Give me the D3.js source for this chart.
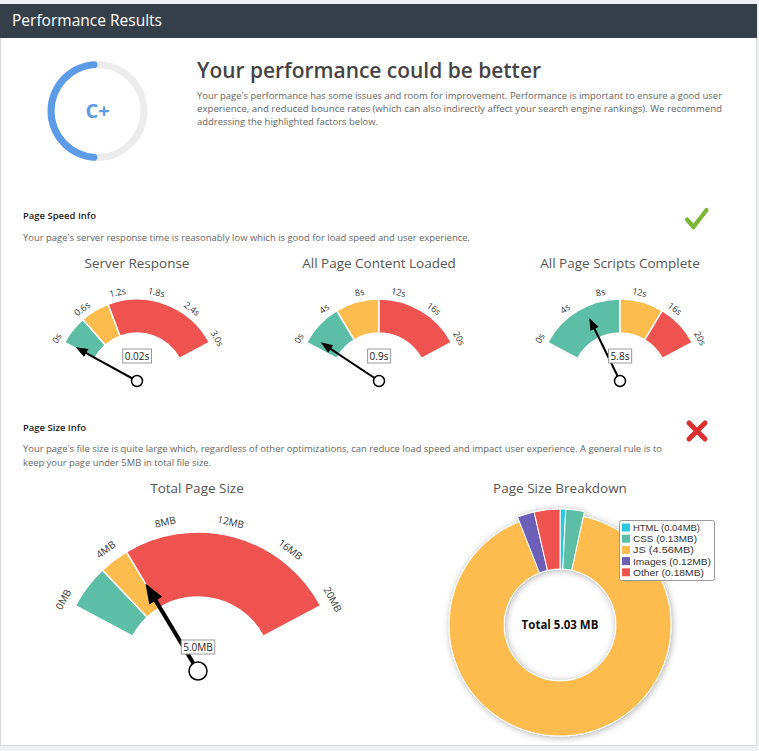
<!DOCTYPE html>
<html><head><meta charset="utf-8">
<script src="https://cdn.jsdelivr.net/npm/d3@7"></script>
<style>
html,body{margin:0;padding:0;background:#eef1f4;}
svg{display:block;}
text{font-family:"Open Sans",sans-serif;}
</style></head><body>
<svg id="c" width="759" height="751"></svg>
<script>
// ---------------- data ----------------
const headerTitle = "Performance Results";
const grade = "C+";
const gradeScore = 0.5;
const headline = "Your performance could be better";
const introLines = [
  "Your page's performance has some issues and room for improvement. Performance is important to ensure a good user",
  "experience, and reduced bounce rates (which can also indirectly affect your search engine rankings). We recommend",
  "addressing the highlighted factors below."
];
const speedHeading = "Page Speed Info";
const speedLines = ["Your page's server response time is reasonably low which is good for load speed and user experience."];
const sizeHeading = "Page Size Info";
const sizeLines = [
  "Your page's file size is quite large which, regardless of other optimizations, can reduce load speed and impact user experience. A general rule is to",
  "keep your page under 5MB in total file size."
];

const speedTitles = ["Server Response", "All Page Content Loaded", "All Page Scripts Complete"];
const speedMax = [3, 20, 20];
const speedTicks = [[0, 0.6, 1.2, 1.8, 2.4, 3.0], [0, 4, 8, 12, 16, 20], [0, 4, 8, 12, 16, 20]];
const speedTickLabels = [
  ["0s", "0.6s", "1.2s", "1.8s", "2.4s", "3.0s"],
  ["0s", "4s", "8s", "12s", "16s", "20s"],
  ["0s", "4s", "8s", "12s", "16s", "20s"]
];
const speedGoodUpTo = [0.5, 5, 10];
const speedFairUpTo = [1.0, 10, 15];
const speedValues = [0.02, 0.9, 5.8];
const speedValueLabels = ["0.02s", "0.9s", "5.8s"];

const sizeTitle = "Total Page Size";
const sizeMax = 20;
const sizeTicks = [0, 4, 8, 12, 16, 20];
const sizeTickLabels = ["0MB", "4MB", "8MB", "12MB", "16MB", "20MB"];
const sizeGoodUpTo = 3;
const sizeFairUpTo = 5;
const sizeValue = 5.0;
const sizeValueLabel = "5.0MB";

const breakdownTitle = "Page Size Breakdown";
const breakdownCategories = ["HTML", "CSS", "JS", "Images", "Other"];
const breakdownValues = [0.04, 0.13, 4.56, 0.12, 0.18];
const breakdownTotalLabel = "Total 5.03 MB";

// ---------------- style ----------------
const TEAL = "#5dbea6", YELLOW = "#fdbc4e", RED = "#ef5350";
const sliceColors = ["#2ec7e0", "#5dbea6", "#fdbc4e", "#6c5fb8", "#ef5350"];

const svg = d3.select("#c");
const defs = svg.append("defs");
const f = defs.append("filter").attr("id", "sh").attr("x", "-20%").attr("y", "-20%").attr("width", "140%").attr("height", "140%");
f.append("feDropShadow").attr("dx", 1).attr("dy", 1).attr("stdDeviation", 3.5).attr("flood-color", "#000").attr("flood-opacity", 0.32);

// panel
svg.append("rect").attr("x", 0.5).attr("y", 4.5).attr("width", 756).attr("height", 741)
  .attr("fill", "#fff").attr("stroke", "#d6d9dc");
svg.append("rect").attr("x", 0).attr("y", 4).attr("width", 757).attr("height", 34).attr("fill", "#353f4a");

function txt(x, y, s, o) {
  o = o || {};
  const t = svg.append("text").attr("x", x).attr("y", y).text(s)
    .attr("font-size", o.size || 10).attr("fill", o.fill || "#333")
    .attr("font-weight", o.weight || 400)
    .attr("text-anchor", o.anchor || "start");
  if (o.len) t.attr("textLength", o.len).attr("lengthAdjust", "spacingAndGlyphs");
  return t;
}

txt(12, 26, headerTitle, {size: 16, fill: "#fff", len: 150});

// grade ring
const gx = 97.5, gy = 111;
const ring = d3.arc().innerRadius(43).outerRadius(50).startAngle(0).endAngle(2 * Math.PI);
svg.append("path").attr("transform", `translate(${gx},${gy})`).attr("d", ring()).attr("fill", "#ececec");
const gArc = d3.arc().innerRadius(43).outerRadius(50).cornerRadius(3.5)
  .startAngle(2 * Math.PI * (1 - gradeScore)).endAngle(2 * Math.PI);
svg.append("path").attr("transform", `translate(${gx},${gy})`).attr("d", gArc()).attr("fill", "#5b9be8");
txt(gx, gy + 7, grade, {size: 20, weight: 700, fill: "#5b9be8", anchor: "middle"});

txt(197, 78, headline, {size: 22, weight: 600, fill: "#444", len: 344});
const introLens = [525, 525, 181];
introLines.forEach((l, i) => txt(197, 99 + i * 13.2, l, {size: 8.6, fill: "#666", len: introLens[i]}));

txt(23, 219, speedHeading, {size: 9, weight: 600, fill: "#222", len: 73});
txt(23, 241, speedLines[0], {size: 8.6, fill: "#666", len: 447});
txt(23, 431, sizeHeading, {size: 9, weight: 600, fill: "#222", len: 63});
const sizeLens = [639, 188];
sizeLines.forEach((l, i) => txt(23, 452 + i * 14, l, {size: 8.6, fill: "#666", len: sizeLens[i]}));

// check mark & cross
svg.append("path").attr("d", "M687,219.5 L693.5,227 L706.5,210")
  .attr("fill", "none").attr("stroke", "#7cb733").attr("stroke-width", 4.2).attr("stroke-linecap", "round").attr("stroke-linejoin", "round");
svg.append("path").attr("d", "M689,423 L705,439 M705,423 L689,439")
  .attr("fill", "none").attr("stroke", "#dc2f2f").attr("stroke-width", 5).attr("stroke-linecap", "round");

// ---------------- gauges ----------------
const A = 62 * Math.PI / 180;
function drawGauge(o) {
  const g = svg.append("g").attr("transform", `translate(${o.cx},${o.cy})`);
  const ang = d3.scaleLinear().domain([0, o.max]).range([-A, A]);
  const bands = [[0, o.good, TEAL], [o.good, o.fair, YELLOW], [o.fair, o.max, RED]];
  const arc = d3.arc().innerRadius(o.r).outerRadius(o.R)
    .startAngle(d => ang(d[0])).endAngle(d => ang(d[1]));
  g.selectAll("path.band").data(bands).join("path").attr("class", "band")
    .attr("d", arc).attr("fill", d => d[2]).attr("stroke", "#fff").attr("stroke-width", 1.5);
  g.selectAll("text.tick").data(o.ticks).join("text").attr("class", "tick")
    .attr("transform", (d) => {
      const a = ang(d), rr = o.R + o.tickOff;
      return `translate(${rr * Math.sin(a)},${-rr * Math.cos(a)}) rotate(${a * 180 / Math.PI})`;
    })
    .attr("text-anchor", "middle").attr("dominant-baseline", "central")
    .attr("font-size", o.tickSize).attr("fill", "#333")
    .text((d, i) => o.labels[i]);
  // needle
  const a = ang(o.value);
  const sx = Math.sin(a), cy_ = -Math.cos(a);
  const px = -cy_, py = sx; // perpendicular
  const L = o.needleLen, H = o.headLen, W = o.headW;
  g.append("line").attr("x1", 0).attr("y1", 0).attr("x2", sx * (L - H + 1)).attr("y2", cy_ * (L - H + 1))
    .attr("stroke", "#000").attr("stroke-width", o.needleW);
  const bx = sx * (L - H), by = cy_ * (L - H);
  g.append("path").attr("d",
    `M${sx * L},${cy_ * L} L${bx + px * W},${by + py * W} L${bx - px * W},${by - py * W} Z`)
    .attr("fill", "#000");
  g.append("circle").attr("r", o.pivotR).attr("fill", "#fff").attr("stroke", "#000").attr("stroke-width", 1.5);
  // value label
  const box = g.append("rect");
  const vt = g.append("text").attr("x", 0).attr("y", -o.labelOff).attr("text-anchor", "middle")
    .attr("dominant-baseline", "central").attr("font-size", o.valueSize).attr("fill", "#222").text(o.valueLabel);
  const bb = vt.node().getBBox();
  box.attr("x", bb.x - 2).attr("y", -o.labelOff - 7).attr("width", bb.width + 4).attr("height", 14)
    .attr("fill", "#fff").attr("stroke", "#999").attr("stroke-width", 1);
}

const speedCx = [137, 379, 620];
speedTitles.forEach((t, i) => {
  txt(speedCx[i], 268, t, {size: 13.5, fill: "#555", anchor: "middle"});
  drawGauge({
    cx: speedCx[i], cy: 381, R: 82, r: 48, max: speedMax[i], ticks: speedTicks[i], labels: speedTickLabels[i],
    good: speedGoodUpTo[i], fair: speedFairUpTo[i], value: speedValues[i], valueLabel: speedValueLabels[i],
    tickOff: 9, tickSize: 9, needleLen: 70, needleW: 2, headLen: 12, headW: 4.5, pivotR: 5.5, labelOff: 25, valueSize: 10
  });
});

txt(197, 493, sizeTitle, {size: 13.5, fill: "#555", anchor: "middle"});
drawGauge({
  cx: 198, cy: 671, R: 139, r: 74, max: sizeMax, ticks: sizeTicks, labels: sizeTickLabels,
  good: sizeGoodUpTo, fair: sizeFairUpTo, value: sizeValue, valueLabel: sizeValueLabel,
  tickOff: 14, tickSize: 10, needleLen: 102, needleW: 4, headLen: 20, headW: 7.5, pivotR: 9, labelOff: 24, valueSize: 10
});

// ---------------- donut ----------------
txt(560, 493, breakdownTitle, {size: 13.5, fill: "#555", anchor: "middle"});
const dcx = 560, dcy = 625;
const pie = d3.pie().sort(null).value(d => d.v).startAngle(0).endAngle(2 * Math.PI);
const pieData = pie(breakdownCategories.map((c, i) => ({c, v: breakdownValues[i], i})));
const dg = svg.append("g").attr("transform", `translate(${dcx},${dcy})`).attr("filter", "url(#sh)");
dg.selectAll("path").data(pieData).join("path")
  .attr("d", d => d3.arc().innerRadius(56).outerRadius(d.data.c === "JS" ? 111 : 116)(d))
  .attr("fill", d => sliceColors[d.data.i]).attr("stroke", "#fff").attr("stroke-width", 1);
txt(dcx, dcy + 4, breakdownTotalLabel, {size: 11.5, weight: 700, fill: "#111", anchor: "middle"});

// legend
const lg = svg.append("g").attr("transform", "translate(619,520)");
lg.append("rect").attr("x", 0.5).attr("y", 0.5).attr("width", 95).attr("height", 60).attr("rx", 2)
  .attr("fill", "#fff").attr("stroke", "#999");
const rows = lg.selectAll("g.row").data(breakdownCategories).join("g").attr("class", "row")
  .attr("transform", (d, i) => `translate(3,${7.5 + i * 11.2})`);
rows.append("rect").attr("x", 0).attr("y", -4).attr("width", 8).attr("height", 8)
  .attr("fill", (d, i) => sliceColors[i]);
rows.append("text").attr("x", 11).attr("y", 3.5)
  .attr("font-size", 9.6).attr("fill", "#333")
  .style("font-family", "'Liberation Sans', Arial, sans-serif")
  .attr("textLength", (d, i) => [67, 64, 61, 78, 71][i]).attr("lengthAdjust", "spacingAndGlyphs")
  .text((d, i) => `${d} (${breakdownValues[i].toFixed(2)}MB)`);
</script>
</body></html>
